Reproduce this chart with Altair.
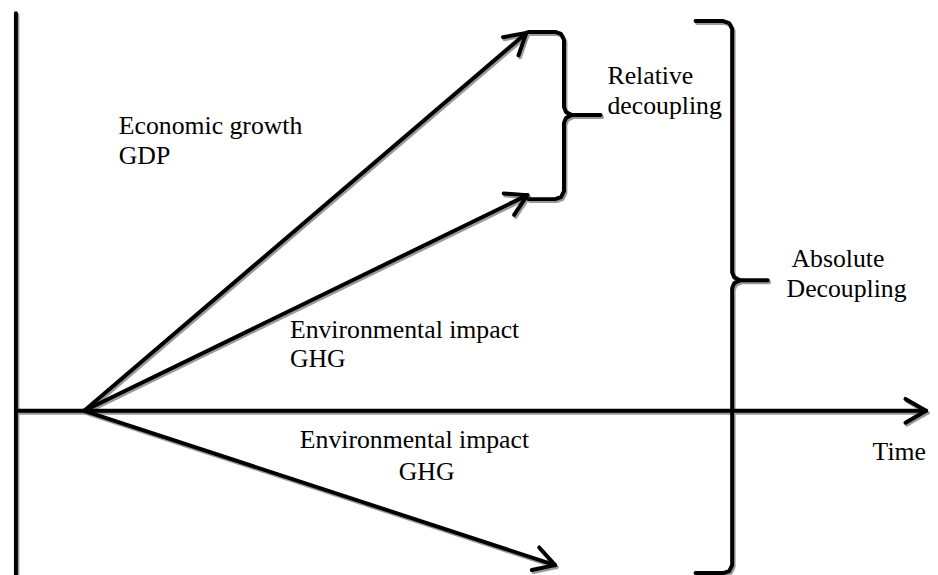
import altair as alt
import pandas as pd
import numpy as np

# ---- diagram geometry (pixel-like data units, y downward) ----
arrow_ids = ["gdp", "ghg_up", "ghg_down", "time"]
arrow_x0 = [85, 85, 85, 16]
arrow_y0 = [402, 402, 402, 402]
arrow_x1 = [532, 533, 561, 936]
arrow_y1 = [20, 184, 558, 402]

vaxis_x = [16, 16]
vaxis_y = [0, 580]

# braces: x of open ends, x of spine, x of tip, y top, y middle, y bottom
brace_ids = ["relative", "absolute"]
brace_x_open = [534, 703]
brace_x_spine = [570, 740]
brace_x_tip = [607, 776]
brace_y_top = [19, 8]
brace_y_mid = [103, 270]
brace_y_bot = [188, 566]

label_text = ["Economic growth", "GDP", "Relative", "decoupling", "Absolute", "Decoupling",
              "Environmental impact", "GHG", "Environmental impact", "GHG", "Time"]
label_x = [120, 120, 614, 614, 800, 795, 293, 293, 303, 403, 882]
label_y = [122, 153, 72, 102, 257, 287, 328, 358, 440, 472, 452]

# ---- build segments ----
rows = []
def seg(name, pts):
    for i, (x, y) in enumerate(pts):
        rows.append({"id": name, "o": i, "x": x, "y": y})

seg("vaxis", list(zip(vaxis_x, vaxis_y)))
wing = 24
half = np.radians(30)
for aid, x0, y0, x1, y1 in zip(arrow_ids, arrow_x0, arrow_y0, arrow_x1, arrow_y1):
    seg(aid, [(x0, y0), (x1, y1)])
    ang = np.arctan2(y0 - y1, x0 - x1)
    for k, s in enumerate([1, -1]):
        a = ang + s * half
        seg(f"{aid}_w{k}", [(x1, y1), (x1 + wing * np.cos(a), y1 + wing * np.sin(a))])

for bid, xo, xs, xt, yt, ym, yb in zip(brace_ids, brace_x_open, brace_x_spine, brace_x_tip,
                                       brace_y_top, brace_y_mid, brace_y_bot):
    seg(bid + "_a", [(xo, yt), (xs - 9, yt), (xs - 3, yt + 2), (xs, yt + 8),
                     (xs, ym - 8), (xs + 2, ym - 3), (xs + 8, ym), (xt, ym)])
    seg(bid + "_b", [(xs + 8, ym), (xs + 2, ym + 3), (xs, ym + 8),
                     (xs, yb - 8), (xs - 3, yb - 2), (xs - 9, yb), (xo, yb)])

df = pd.DataFrame(rows)
labels = pd.DataFrame({"t": label_text, "x": label_x, "y": label_y})

W, H = 915, 550
xs = alt.Scale(domain=[8, 8 + W], nice=False, zero=False)
ys = alt.Scale(domain=[8, 8 + H], nice=False, zero=False, reverse=True)

shadow = alt.Chart(df).transform_calculate(
    xs="datum.x + 1.5", ys="datum.y + 2"
).mark_line(color="#999999", strokeWidth=4, strokeCap="round", strokeJoin="round").encode(
    x=alt.X("xs:Q", scale=xs, axis=None),
    y=alt.Y("ys:Q", scale=ys, axis=None),
    detail="id:N", order="o:Q")

lines = alt.Chart(df).mark_line(color="black", strokeWidth=4, strokeCap="round",
                                strokeJoin="round").encode(
    x=alt.X("x:Q", scale=xs, axis=None),
    y=alt.Y("y:Q", scale=ys, axis=None),
    detail="id:N", order="o:Q")

text = alt.Chart(labels).mark_text(
    font="Liberation Serif", fontSize=26, color="black", align="left", baseline="alphabetic"
).encode(x=alt.X("x:Q", scale=xs, axis=None), y=alt.Y("y:Q", scale=ys, axis=None), text="t:N")

chart = alt.layer(shadow, lines, text).properties(
    width=W, height=H, padding=0, background="white"
).configure_view(stroke=None)

chart.save("out.html", embed_options={"renderer": "svg", "actions": False})
